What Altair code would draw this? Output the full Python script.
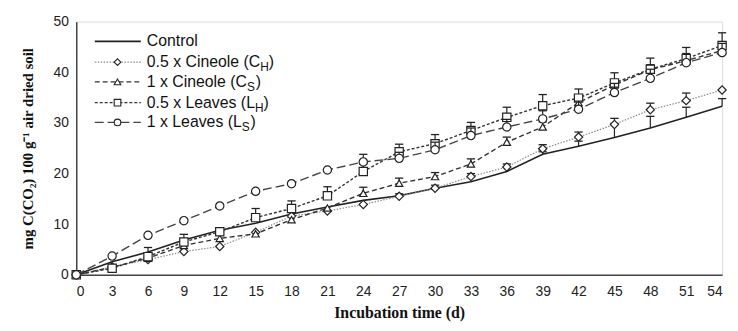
import altair as alt
import pandas as pd

days = [0, 3, 6, 9, 12, 15, 18, 21, 24, 27, 30, 33, 36, 39, 42, 45, 48, 51, 54]

control = [0, 2.6, 4.5, 6.9, 8.8, 10.2, 12.0, 13.4, 14.7, 15.6, 17.1, 18.4, 20.4, 23.8, 25.4, 27.1, 29.0, 31.1, 33.3]
cine_h = [0, 1.6, 3.0, 4.6, 5.6, 8.4, 11.6, 12.6, 13.9, 15.5, 17.1, 19.4, 21.3, 24.9, 27.2, 29.7, 32.6, 34.4, 36.5]
cine_s = [0, 1.5, 3.3, 5.8, 7.2, 8.1, 10.9, 13.2, 16.1, 18.1, 19.4, 21.9, 26.2, 29.2, 34.0, 37.5, 40.5, 42.3, 44.3]
leaf_h = [0, 1.3, 3.6, 6.5, 8.5, 11.3, 13.1, 15.6, 20.4, 24.3, 25.9, 28.5, 31.1, 33.4, 34.9, 37.9, 40.6, 42.7, 45.3]
leaf_s = [0, 3.7, 7.8, 10.7, 13.6, 16.5, 18.0, 20.7, 22.3, 23.0, 24.7, 27.5, 29.2, 30.8, 32.7, 36.0, 38.8, 41.9, 43.9]

control_err = [0, 0, 0, 0, 0, 0, 0, 0, 0, 0, 0, 0, 0, 0.5, 1.0, 2.8, 2.3, 2.0, 1.5]
cine_h_err = [0, 0, 0, 0, 0, 0, 0, 0, 0, 0.5, 0.6, 0.6, 0.6, 0.8, 1.0, 1.2, 1.3, 1.5, 0]
cine_s_err = [0, 0, 0, 0, 0, 0, 0, 0, 1.2, 1.0, 0.8, 1.0, 1.0, 1.0, 1.0, 1.0, 1.0, 1.0, 1.0]
leaf_h_err = [0, 0, 1.8, 1.5, 0.7, 1.8, 1.5, 1.8, 1.5, 1.5, 1.8, 1.6, 2.0, 2.2, 1.8, 2.0, 2.2, 2.2, 2.5]
leaf_s_err = [0, 0, 0, 0, 0, 0, 0, 0, 1.5, 1.2, 1.5, 1.5, 1.5, 1.6, 1.6, 1.8, 1.8, 1.8, 1.8]

legend_main = ["Control", "0.5 x Cineole (C", "1 x Cineole (C", "0.5 x Leaves (L", "1 x Leaves (L"]
legend_sub = ["", "H", "S", "H", "S"]

series = [
    # values, errors, shape, dash, color, width
    (control, control_err, None, [], "#222222", 1.6),
    (cine_h, cine_h_err, "diamond", [1.5, 1.5], "#8a8a8a", 1.2),
    (cine_s, cine_s_err, "triangle-up", [5, 3], "#333333", 1.4),
    (leaf_h, leaf_h_err, "square", [3, 2], "#333333", 1.4),
    (leaf_s, leaf_s_err, "circle", [9, 4], "#444444", 1.4),
]

xs = alt.Scale(domain=[0, 54], nice=False)
ys = alt.Scale(domain=[0, 50], nice=False)

x_axis = alt.Axis(values=days, title="Incubation time (d)", grid=False, ticks=False,
                  labelFont="Liberation Sans", labelFontSize=14, labelColor="#222222",
                  labelPadding=10, domainColor="#444444", domainWidth=1.5,
                  titleFont="Liberation Serif", titleFontSize=16, titleFontWeight="bold",
                  titleColor="#111111", titlePadding=6)
y_axis = alt.Axis(values=[0, 10, 20, 30, 40, 50], title="mg C(CO₂) 100 g⁻¹ air dried soil",
                  grid=False, ticks=False, labelFont="Liberation Sans", labelFontSize=14,
                  labelColor="#222222", labelPadding=8, domainColor="#444444", domainWidth=1.5,
                  titleFont="Liberation Serif", titleFontSize=15, titleFontWeight="bold",
                  titleColor="#111111", titlePadding=18)


def X(f="d"):
    return alt.X(f + ":Q", scale=xs, axis=x_axis)


def Y(f="v"):
    return alt.Y(f + ":Q", scale=ys, axis=y_axis)


layers = []
for vals, errs, shape, dash, color, width in series:
    df = pd.DataFrame({"d": days, "v": vals, "e": errs})
    df["top"] = df["v"] + df["e"]
    base = alt.Chart(df)
    line_kw = dict(color=color, strokeWidth=width)
    if dash:
        line_kw["strokeDash"] = dash
    layers.append(base.mark_line(**line_kw).encode(x=X(), y=Y()))
    eb = base.transform_filter("datum.e > 0")
    layers.append(eb.mark_rule(color="#222222", strokeWidth=1.2).encode(
        x=X(), y=Y(), y2="top:Q"))
    layers.append(eb.mark_point(shape="stroke", size=70, color="#222222", strokeWidth=1.3,
                                opacity=1).encode(x=X(), y=Y("top")))
    if shape:
        layers.append(base.mark_point(shape=shape, size=70 if shape != "triangle-up" else 55,
                                      filled=True, fill="white", stroke="#222222",
                                      strokeWidth=1.2, opacity=1).encode(x=X(), y=Y()))

# Legend built from the same styles, in data units
leg_y = [46.1, 42.0, 38.1, 34.0, 30.1]
for i, (vals, errs, shape, dash, color, width) in enumerate(series):
    ldf = pd.DataFrame({"d": [1.55, 5.4], "v": [leg_y[i], leg_y[i]]})
    kw = dict(color=color, strokeWidth=width)
    if dash:
        kw["strokeDash"] = dash
    layers.append(alt.Chart(ldf).mark_line(**kw).encode(x=X(), y=Y()))
    if shape:
        mdf = pd.DataFrame({"d": [3.45], "v": [leg_y[i]]})
        layers.append(alt.Chart(mdf).mark_point(shape=shape, size=45, filled=True, fill="white",
                                                stroke="#222222", strokeWidth=1.1, opacity=1)
                      .encode(x=X(), y=Y()))

FS = 16
tdf = pd.DataFrame({"d": [5.9] * 5, "v": leg_y, "t": legend_main})
layers.append(alt.Chart(tdf).mark_text(align="left", baseline="middle", font="Liberation Sans",
                                       fontSize=FS, color="#111111")
              .encode(x=X(), y=Y(), text="t:N"))

char_w = {"0": 556, ".": 278, "5": 556, " ": 278, "x": 500, "C": 722, "i": 222, "n": 556,
          "e": 556, "o": 556, "l": 222, "(": 333, "1": 556, "L": 556, "a": 556, "v": 500,
          "s": 500}
for i in range(1, 5):
    w = sum(char_w.get(c, 556) for c in legend_main[i]) * FS / 1000
    sdf = pd.DataFrame({"d": [5.9], "v": [leg_y[i]], "t": [legend_sub[i]]})
    layers.append(alt.Chart(sdf).mark_text(align="left", baseline="middle", font="Liberation Sans",
                                           fontSize=12, color="#111111", dx=w, dy=5)
                  .encode(x=X(), y=Y(), text="t:N"))
    cdf = pd.DataFrame({"d": [5.9], "v": [leg_y[i]], "t": [")"]})
    layers.append(alt.Chart(cdf).mark_text(align="left", baseline="middle", font="Liberation Sans",
                                           fontSize=FS, color="#111111", dx=w + 8.7)
                  .encode(x=X(), y=Y(), text="t:N"))

chart = alt.layer(*layers).properties(
    width=653, height=256,
    autosize=alt.AutoSizeParams(type="none"),
    padding={"left": 69, "top": 12, "right": 8, "bottom": 56},
).configure_view(strokeWidth=0).configure(background="white")

chart.save("out.html", embed_options={"renderer": "svg", "actions": False})
